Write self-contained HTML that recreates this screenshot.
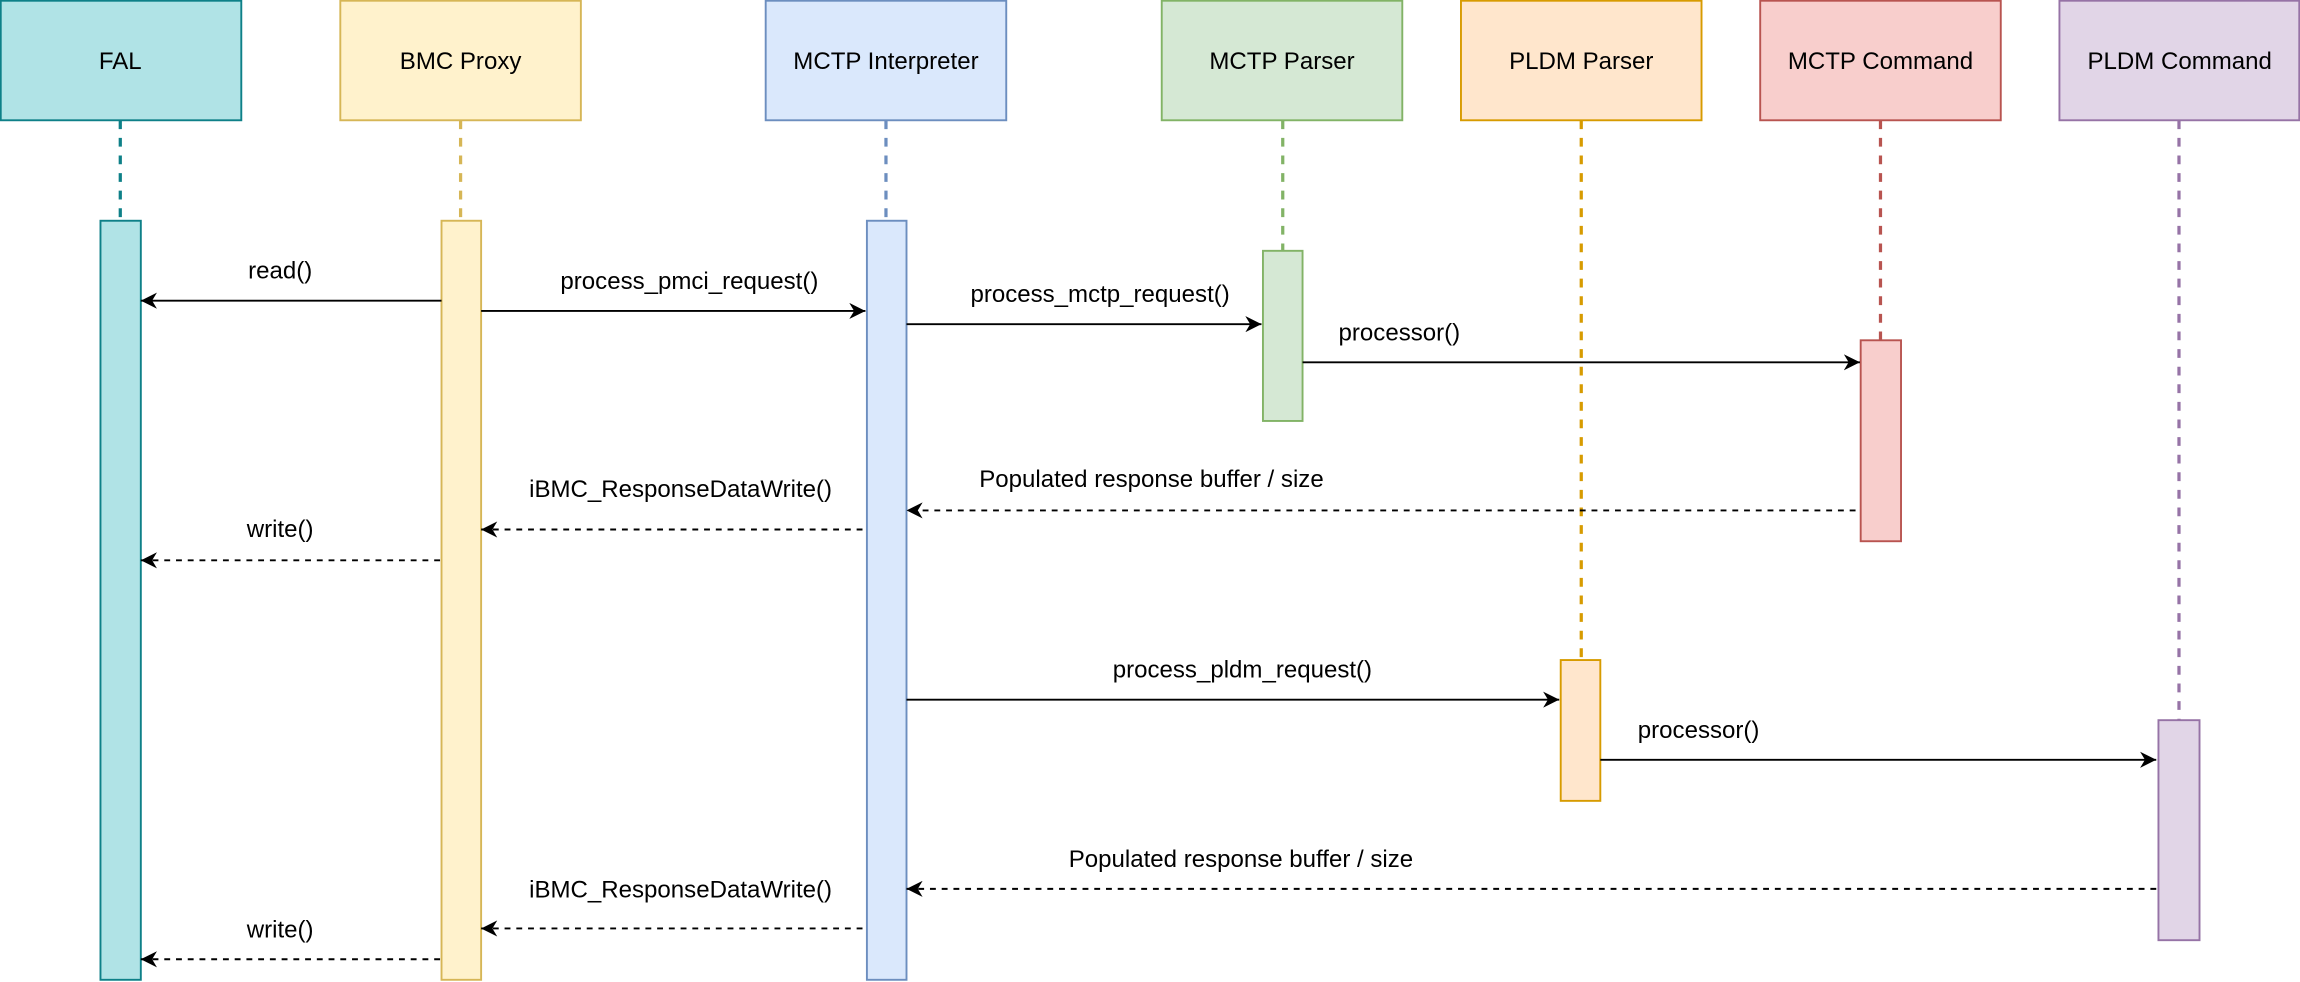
<!DOCTYPE html>
<html><head><meta charset="utf-8"><style>
html,body{margin:0;padding:0;background:#fff;}
svg{display:block;}
text{font-family:"Liberation Sans",sans-serif;font-size:16.4px;fill:#000;}
</style></head><body>
<svg width="2300" height="982" viewBox="0 0 1568 669.5" preserveAspectRatio="none" xmlns="http://www.w3.org/2000/svg">
<defs>
<marker id="a" viewBox="0 0 10 10" refX="10" refY="5" markerWidth="11" markerHeight="11" markerUnits="userSpaceOnUse" orient="auto">
<path d="M0,0 L10,5 L0,10 L3,5 Z" fill="#000"/></marker>
</defs>
<g stroke-width="1.3">
<rect x="0.5" y="0.5" width="164" height="81.5" fill="#b0e3e6" stroke="#0e8088"/>
<rect x="232" y="0.5" width="164" height="81.5" fill="#fff2cc" stroke="#d6b656"/>
<rect x="522" y="0.5" width="164" height="81.5" fill="#dae8fc" stroke="#6c8ebf"/>
<rect x="792" y="0.5" width="164" height="81.5" fill="#d5e8d4" stroke="#82b366"/>
<rect x="996" y="0.5" width="164" height="81.5" fill="#ffe6cc" stroke="#d79b00"/>
<rect x="1200" y="0.5" width="164" height="81.5" fill="#f8cecc" stroke="#b85450"/>
<rect x="1404" y="0.5" width="163.5" height="81.5" fill="#e1d5e7" stroke="#9673a6"/>
</g>
<g text-anchor="middle">
<text x="82" y="47">FAL</text>
<text x="314" y="47">BMC Proxy</text>
<text x="604" y="47">MCTP Interpreter</text>
<text x="874" y="47">MCTP Parser</text>
<text x="1078" y="47">PLDM Parser</text>
<text x="1282" y="47">MCTP Command</text>
<text x="1486" y="47">PLDM Command</text>
</g>
<g stroke-width="2.2" stroke-dasharray="6,6" fill="none">
<line x1="82" y1="82" x2="82" y2="150" stroke="#0e8088"/>
<line x1="314" y1="82" x2="314" y2="150" stroke="#d6b656"/>
<line x1="604" y1="82" x2="604" y2="150" stroke="#6c8ebf"/>
<line x1="874.5" y1="82" x2="874.5" y2="171" stroke="#82b366"/>
<line x1="1078" y1="82" x2="1078" y2="450" stroke="#d79b00"/>
<line x1="1282" y1="82" x2="1282" y2="232" stroke="#b85450"/>
<line x1="1485.5" y1="82" x2="1485.5" y2="491" stroke="#9673a6"/>
</g>
<g stroke-width="1.3">
<rect x="68.5" y="150.5" width="27.5" height="517.5" fill="#b0e3e6" stroke="#0e8088"/>
<rect x="301" y="150.5" width="27" height="517.5" fill="#fff2cc" stroke="#d6b656"/>
<rect x="591" y="150.5" width="27" height="517.5" fill="#dae8fc" stroke="#6c8ebf"/>
<rect x="861" y="171" width="27" height="116" fill="#d5e8d4" stroke="#82b366"/>
<rect x="1064" y="450" width="27" height="96" fill="#ffe6cc" stroke="#d79b00"/>
<rect x="1268.5" y="232" width="27.5" height="137" fill="#f8cecc" stroke="#b85450"/>
<rect x="1471.5" y="491" width="28" height="150" fill="#e1d5e7" stroke="#9673a6"/>
</g>
<g stroke="#000" stroke-width="1.3" fill="none" marker-end="url(#a)">
<line x1="301" y1="205" x2="96" y2="205"/>
<line x1="328" y1="212" x2="590" y2="212"/>
<line x1="618" y1="221" x2="860" y2="221"/>
<line x1="888" y1="247" x2="1268" y2="247"/>
<line x1="618" y1="477" x2="1063" y2="477"/>
<line x1="1091" y1="518" x2="1470" y2="518"/>
</g>
<g stroke="#000" stroke-width="1.3" fill="none" stroke-dasharray="4,4" marker-end="url(#a)">
<line x1="1265" y1="348" x2="618" y2="348"/>
<line x1="588" y1="361" x2="328" y2="361"/>
<line x1="300" y1="382" x2="96" y2="382"/>
<line x1="1470" y1="606" x2="618" y2="606"/>
<line x1="588" y1="633" x2="328" y2="633"/>
<line x1="300" y1="654" x2="96" y2="654"/>
</g>
<g text-anchor="middle">
<text x="191" y="190">read()</text>
<text x="470" y="197">process_pmci_request()</text>
<text x="750" y="206">process_mctp_request()</text>
<text x="954" y="232">processor()</text>
<text x="785" y="332">Populated response buffer / size</text>
<text x="464" y="339">iBMC_ResponseDataWrite()</text>
<text x="191" y="366">write()</text>
<text x="847" y="462">process_pldm_request()</text>
<text x="1158" y="503">processor()</text>
<text x="846" y="591">Populated response buffer / size</text>
<text x="464" y="612">iBMC_ResponseDataWrite()</text>
<text x="191" y="639">write()</text>
</g>
</svg>
</body></html>
